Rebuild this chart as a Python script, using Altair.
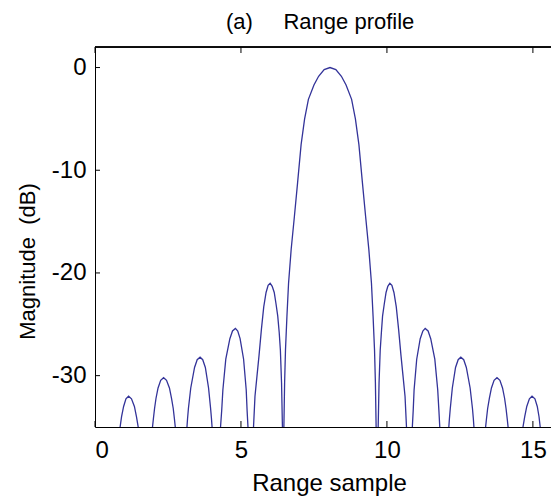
import altair as alt
import pandas as pd

TITLE = "(a)\u00a0\u00a0\u00a0\u00a0\u00a0Range profile"
X_TITLE = "Range sample"
Y_TITLE = "Magnitude\u00a0\u00a0(dB)"
X_TICKS = [0, 5, 10, 15]
Y_TICKS = [0, -10, -20, -30]
X_DOMAIN = [0, 15.62]
Y_DOMAIN = [-35, 2]

# (range sample, magnitude dB), lobe by lobe
EDGE_LEFT = [(0.00, -50.0), (0.62, -60.0)]
LOBE_1 = [(0.86, -35), (0.91, -34), (0.98, -33), (1.06, -32.25), (1.15, -32.0),
          (1.25, -32.25), (1.35, -33), (1.42, -34), (1.48, -35)]
NULL_1 = [(1.72, -60)]
LOBE_2 = [(1.97, -35), (2.00, -34.2), (2.04, -33.2), (2.09, -32.2), (2.16, -31.2),
          (2.25, -30.45), (2.35, -30.2), (2.45, -30.45), (2.55, -31.2), (2.62, -32.2),
          (2.68, -33.2), (2.72, -34.2), (2.75, -35)]
NULL_2 = [(2.95, -60)]
LOBE_3 = [(3.15, -35), (3.17, -34.2), (3.20, -33.2), (3.28, -31.2), (3.41, -29.2),
          (3.50, -28.45), (3.60, -28.2), (3.69, -28.45), (3.78, -29.2), (3.89, -31.2),
          (3.96, -33.2), (3.99, -34.2), (4.01, -35)]
NULL_3 = [(4.15, -60)]
LOBE_4 = [(4.30, -35), (4.34, -33.4), (4.38, -31.4), (4.48, -28.4), (4.62, -26.4),
          (4.71, -25.65), (4.81, -25.4), (4.89, -25.65), (4.97, -26.4), (5.09, -28.4),
          (5.18, -31.4), (5.21, -33.4), (5.24, -35)]
NULL_4 = [(5.33, -60)]
LOBE_5 = [(5.43, -35), (5.48, -32), (5.55, -30), (5.62, -28), (5.70, -25.5),
          (5.78, -23.3), (5.86, -21.9), (5.93, -21.2), (6.00, -21.0), (6.07, -21.3),
          (6.14, -21.9), (6.20, -23), (6.26, -24.2), (6.31, -25.8), (6.35, -27.5),
          (6.39, -30.7), (6.42, -35)]
NULL_5 = [(6.445, -60)]
MAIN = [(6.47, -35), (6.495, -30.7), (6.525, -27.5), (6.575, -24.2), (6.63, -21.0),
        (6.72, -17.7), (6.83, -14.5), (6.94, -11.2), (7.06, -7.5), (7.18, -5.0),
        (7.31, -3.1), (7.50, -1.7), (7.66, -0.85), (7.85, -0.2), (8.05, 0.0),
        (8.25, -0.2), (8.44, -0.85), (8.60, -1.7), (8.79, -3.1), (8.92, -5.0),
        (9.04, -7.5), (9.16, -11.2), (9.27, -14.5), (9.38, -17.7), (9.47, -21.0),
        (9.525, -24.2), (9.575, -27.5), (9.605, -30.7), (9.63, -35)]
NULL_6 = [(9.665, -60)]
LOBE_6 = [(9.70, -35), (9.73, -30.7), (9.77, -27.5), (9.81, -25.8), (9.85, -24.2),
          (9.91, -23), (9.97, -21.9), (10.03, -21.3), (10.10, -21.0), (10.17, -21.2),
          (10.24, -21.9), (10.32, -23.3), (10.40, -25.5), (10.48, -28), (10.55, -30),
          (10.62, -32), (10.67, -35)]
NULL_7 = [(10.76, -60)]
LOBE_7 = [(10.87, -35), (10.90, -33.4), (10.93, -31.4), (11.02, -28.4), (11.14, -26.4),
          (11.23, -25.65), (11.31, -25.4), (11.41, -25.65), (11.50, -26.4), (11.64, -28.4),
          (11.74, -31.4), (11.78, -33.4), (11.81, -35)]
NULL_8 = [(11.97, -60)]
LOBE_8 = [(12.12, -35), (12.14, -34.2), (12.17, -33.2), (12.24, -31.2), (12.35, -29.2),
          (12.44, -28.45), (12.53, -28.2), (12.63, -28.45), (12.72, -29.2), (12.85, -31.2),
          (12.93, -33.2), (12.96, -34.2), (12.98, -35)]
NULL_9 = [(13.18, -60)]
LOBE_9 = [(13.38, -35), (13.41, -34.2), (13.45, -33.2), (13.51, -32.2), (13.58, -31.2),
          (13.67, -30.45), (13.77, -30.2), (13.87, -30.45), (13.96, -31.2), (14.03, -32.2),
          (14.08, -33.2), (14.12, -34.2), (14.15, -35)]
NULL_10 = [(14.40, -60)]
LOBE_10 = [(14.66, -35), (14.72, -34), (14.79, -33), (14.88, -32.25), (14.97, -32.0),
           (15.07, -32.25), (15.15, -33), (15.21, -34), (15.25, -35)]
EDGE_RIGHT = [(15.45, -60), (15.62, -50)]

PIECES = [EDGE_LEFT, LOBE_1, NULL_1, LOBE_2, NULL_2, LOBE_3, NULL_3, LOBE_4, NULL_4,
          LOBE_5, NULL_5, MAIN, NULL_6, LOBE_6, NULL_7, LOBE_7, NULL_8, LOBE_8,
          NULL_9, LOBE_9, NULL_10, LOBE_10, EDGE_RIGHT]

rows = [{"x": p[0], "db": p[1]} for piece in PIECES for p in piece]
df = pd.DataFrame(rows)
df_xt = pd.DataFrame({"t": X_TICKS})
df_yt = pd.DataFrame({"t": Y_TICKS})
df_title = pd.DataFrame({"label": [TITLE]})

FONT = "Liberation Sans"
FS = 24
W, H = 456, 380

xscale = alt.Scale(domain=X_DOMAIN, nice=False, zero=False)
yscale = alt.Scale(domain=Y_DOMAIN, nice=False, zero=False)

line = alt.Chart(df).mark_line(clip=True, color="#333399", strokeWidth=1.3).encode(
    x=alt.X("x:Q", scale=xscale,
            axis=alt.Axis(values=X_TICKS, title=X_TITLE, ticks=False, labelPadding=11,
                          labelExpr="'' + datum.value",
                          domainColor="black", domainWidth=1, grid=False,
                          labelFontSize=FS, labelFont=FONT, labelColor="black",
                          titleFontSize=FS, titleFont=FONT, titleFontWeight="normal",
                          titleColor="black", titleX=234, titleY=63,
                          titleBaseline="alphabetic", titleAlign="center")),
    y=alt.Y("db:Q", scale=yscale,
            axis=alt.Axis(values=Y_TICKS, title=Y_TITLE, ticks=False, labelPadding=9,
                          labelExpr="'' + datum.value",
                          domainColor="black", domainWidth=1, grid=False,
                          labelFontSize=FS, labelFont=FONT, labelColor="black",
                          titleFontSize=22, titleFont=FONT, titleFontWeight="normal",
                          titleColor="black", titleX=-56, titleY=214,
                          titleAlign="center", titleBaseline="bottom")),
)

xt_bottom = alt.Chart(df_xt).mark_rule(color="black", strokeWidth=1).encode(
    x=alt.X("t:Q", scale=xscale), y=alt.value(H), y2=alt.value(H - 6))
xt_top = alt.Chart(df_xt).mark_rule(color="black", strokeWidth=1).encode(
    x=alt.X("t:Q", scale=xscale), y=alt.value(0), y2=alt.value(6))
yt_left = alt.Chart(df_yt).mark_rule(color="black", strokeWidth=1).encode(
    y=alt.Y("t:Q", scale=yscale), x=alt.value(0), x2=alt.value(5))
top_border = alt.Chart(df_xt).mark_rule(color="black", strokeWidth=1).encode(
    x=alt.value(0), x2=alt.value(W), y=alt.value(0))
title = alt.Chart(df_title).mark_text(
    font=FONT, fontSize=22, color="black", align="left", baseline="alphabetic"
).encode(x=alt.value(131), y=alt.value(-18), text="label:N")

chart = alt.layer(line, xt_bottom, xt_top, yt_left, top_border, title).properties(
    width=W, height=H,
    padding={"left": 95, "top": 47, "right": 0, "bottom": 71},
    autosize=alt.AutoSizeParams(type="none"),
).configure_view(stroke="transparent").configure(background="white")

chart.save("out.html", embed_options={"renderer": "svg", "actions": False})
